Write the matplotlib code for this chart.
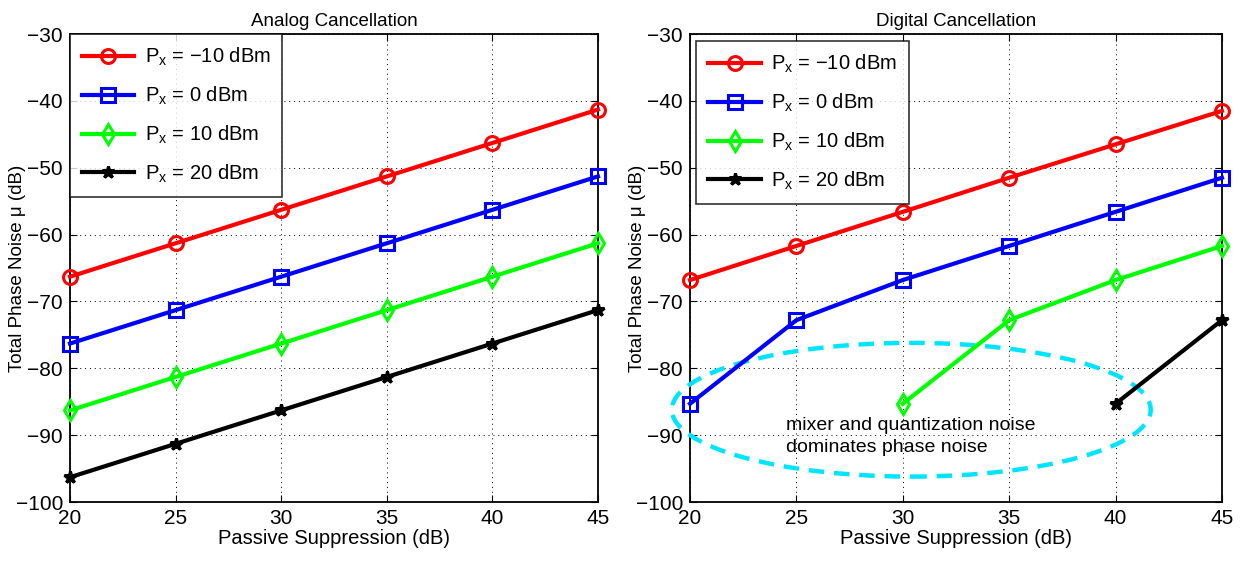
import matplotlib
matplotlib.use("Agg")
import matplotlib.pyplot as plt
from matplotlib.patches import Ellipse

plt.rcParams['font.family'] = ['Liberation Sans', 'DejaVu Sans']
plt.rcParams['axes.unicode_minus'] = True
plt.rcParams['mathtext.fontset'] = 'custom'
plt.rcParams['mathtext.rm'] = 'Liberation Sans'

x = [20, 25, 30, 35, 40, 45]
labels = [r'P$_\mathregular{x}$ = −10 dBm', r'P$_\mathregular{x}$ = 0 dBm',
          r'P$_\mathregular{x}$ = 10 dBm', r'P$_\mathregular{x}$ = 20 dBm']

analog_m10 = [-66.3, -61.3, -56.3, -51.3, -46.3, -41.3]
analog_0 = [-76.3, -71.3, -66.3, -61.3, -56.3, -51.3]
analog_10 = [-86.3, -81.3, -76.3, -71.3, -66.3, -61.3]
analog_20 = [-96.3, -91.3, -86.3, -81.3, -76.3, -71.3]

digital_x_m10 = [20, 25, 30, 35, 40, 45]
digital_m10 = [-66.8, -61.7, -56.6, -51.5, -46.5, -41.5]
digital_x_0 = [20, 25, 30, 35, 40, 45]
digital_0 = [-85.3, -72.8, -66.8, -61.7, -56.6, -51.5]
digital_x_10 = [30, 35, 40, 45]
digital_10 = [-85.3, -72.8, -66.8, -61.7]
digital_x_20 = [40, 45]
digital_20 = [-85.3, -72.8]

colors = ['#ff0000', '#0000ff', '#00ff00', '#000000']
markers = ['o', 's', 'd', '*']

fig = plt.figure(figsize=(12.49, 5.61), dpi=100)
ax1 = fig.add_axes([70/1249, 1-502/561, 528/1249, 468/561])
ax2 = fig.add_axes([690/1249, 1-502/561, 532/1249, 468/561])

def style(ax, title, w):
    ax.set_xlim(20, 45)
    ax.set_ylim(-100, -30)
    ax.set_xticks(x)
    ax.set_yticks(range(-100, -29, 10))
    ax.grid(True, linestyle=(0, (1, 4)), color='black', linewidth=0.7)
    ax.tick_params(direction='in', top=True, right=True, labelsize=15, length=5, pad=5)
    for s in ax.spines.values():
        s.set_linewidth(1.3)
    ax.set_title(title, fontsize=13.5, pad=6)
    ax.set_xlabel('Passive Suppression (dB)', fontsize=14.5, labelpad=1)
    ax.set_ylabel('Total Phase Noise μ (dB)', fontsize=13.5)
    ax.yaxis.set_label_coords(-44 / w, 0.5)

def plot_series(ax, xs, ys_list):
    for xx, yy, c, m, lab in zip(xs, ys_list, colors, markers, labels):
        ms = 10 if m != '*' else 9
        ax.plot(xx, yy, color=c, marker=m, linewidth=3, markersize=ms,
                markerfacecolor='none' if m != '*' else c, markeredgewidth=2.2,
                label=lab, clip_on=False, zorder=5)
    leg = ax.legend(loc='upper left', fontsize=14.5, frameon=True, fancybox=False,
                    edgecolor='black', borderaxespad=0.0, handlelength=2.6,
                    labelspacing=0.82, borderpad=0.6, handletextpad=0.5)
    leg.get_frame().set_linewidth(1.2)
    leg.set_zorder(10)
    return leg

style(ax1, 'Analog Cancellation', 528)
plot_series(ax1, [x, x, x, x], [analog_m10, analog_0, analog_10, analog_20])

style(ax2, 'Digital Cancellation', 532)
plot_series(ax2, [digital_x_m10, digital_x_0, digital_x_10, digital_x_20],
            [digital_m10, digital_0, digital_10, digital_20])
ax2.legend_.set_bbox_to_anchor((0.012, 0.985))

ell = Ellipse((30.4, -86.2), 22.5, 20.0, fill=False, edgecolor='#00e5ff',
              linestyle=(0, (3.5, 2.2)), linewidth=3.2, clip_on=False, zorder=4)
ax2.add_patch(ell)
ax2.text(24.5, -88.5, 'mixer and quantization noise', fontsize=14, va='center')
ax2.text(24.5, -91.8, 'dominates phase noise', fontsize=14, va='center')

fig.savefig('out.png', dpi=100)
